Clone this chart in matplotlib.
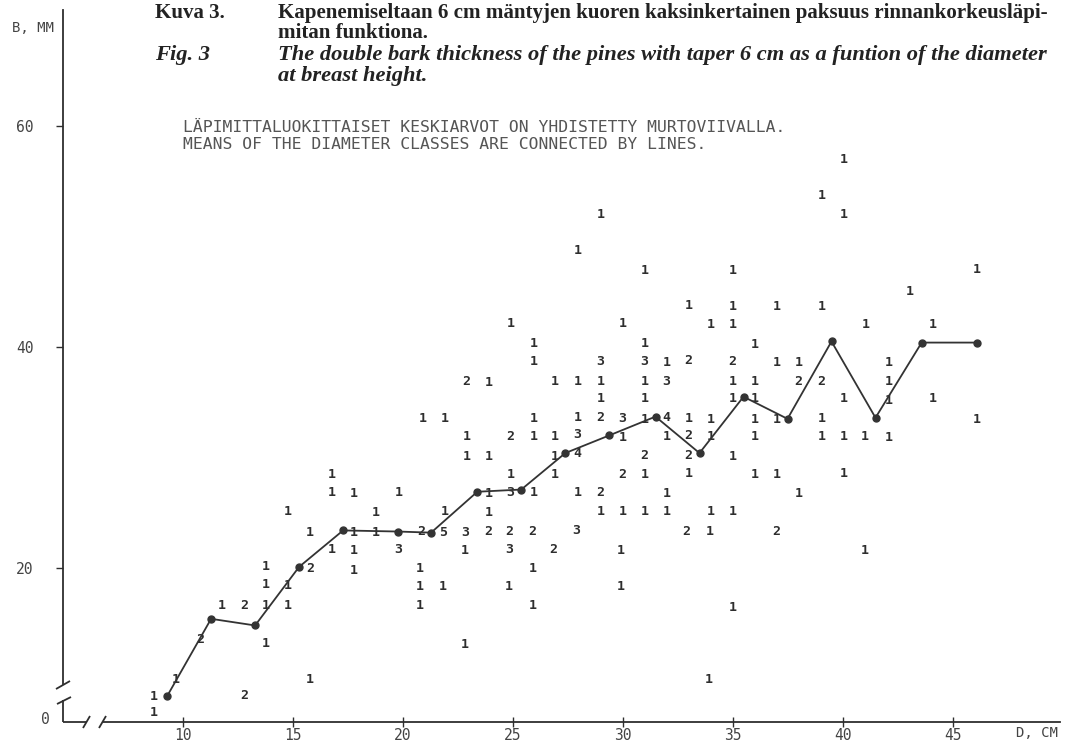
import matplotlib
matplotlib.use("Agg")
import matplotlib.pyplot as plt

W, H = 1074, 744

# ---------------- data ----------------
mean_diam = [9.3, 11.3, 13.3, 15.3, 17.3, 19.8, 21.3, 23.4, 25.4, 27.4,
             29.4, 31.5, 33.5, 35.5, 37.5, 39.5, 41.5, 43.6, 46.1]
mean_bark = [8.4, 15.4, 14.8, 20.1, 23.4, 23.3, 23.2, 26.9, 27.1, 30.4,
             32.0, 33.7, 30.4, 35.5, 33.5, 40.5, 33.6, 40.4, 40.4]

obs_diam = [
    8.7, 8.7, 9.7, 10.8, 11.8, 12.8, 12.8,
    13.8, 13.8, 13.8, 13.8,
    14.8, 14.8, 14.8,
    15.8, 15.8, 15.8,
    16.8, 16.8, 16.8,
    17.8, 17.8, 17.8, 17.8,
    18.8, 18.8,
    19.85, 19.8,
    20.9, 20.85, 20.8, 20.8, 20.8,
    21.9, 21.9, 21.85, 21.85,
    22.9, 22.9, 22.9, 22.85, 22.85, 22.85,
    23.9, 23.9, 23.9, 23.9, 23.9,
    24.9, 24.9, 24.9, 24.9, 24.85, 24.85, 24.85,
    25.95, 25.95, 25.95, 25.95, 25.95, 25.9, 25.9, 25.9,
    26.9, 26.9, 26.9, 26.9, 26.85,
    27.95, 27.95, 27.95, 27.95, 27.95, 27.95, 27.9,
    29.0, 29.0, 29.0, 29.0, 29.0, 29.0, 29.0,
    30.0, 30.0, 30.0, 30.0, 30.0, 29.9, 29.9,
    31.0, 31.0, 31.0, 31.0, 31.0, 31.0, 31.0, 31.0, 31.0,
    32.0, 32.0, 32.0, 32.0, 32.0, 32.0,
    33.0, 33.0, 33.0, 33.0, 33.0, 33.0, 32.9,
    34.0, 34.0, 34.0, 34.0, 33.95, 33.9,
    35.0, 35.0, 35.0, 35.0, 35.0, 35.0, 35.0, 35.0, 35.0,
    36.0, 36.0, 36.0, 36.0, 36.0, 36.0,
    37.0, 37.0, 37.0, 37.0, 37.0,
    38.0, 38.0, 38.0,
    39.05, 39.05, 39.05, 39.05, 39.05,
    40.05, 40.05, 40.05, 40.05, 40.05,
    41.05, 41.0, 41.0,
    42.1, 42.1, 42.1, 42.1,
    43.05,
    44.1, 44.1,
    46.1, 46.1,
]
obs_bark = [
    8.4, 6.9, 9.9, 13.5, 16.65, 16.65, 8.5,
    20.1, 18.5, 16.65, 13.2,
    25.1, 18.4, 16.65,
    23.2, 20.0, 9.9,
    28.5, 26.8, 21.7,
    26.7, 23.2, 21.6, 19.8,
    25.0, 23.2,
    26.8, 21.7,
    33.5, 23.3, 20.0, 18.3, 16.65,
    33.5, 25.1, 23.2, 18.3,
    36.9, 31.9, 30.1, 23.2, 21.6, 13.1,
    36.8, 30.1, 26.7, 25.0, 23.3,
    42.1, 31.9, 28.5, 26.8, 23.3, 21.7, 18.3,
    40.3, 38.7, 33.55, 31.9, 26.8, 23.3, 20.0, 16.65,
    36.9, 31.9, 30.1, 28.5, 21.7,
    48.7, 36.9, 33.6, 32.1, 30.4, 26.8, 23.4,
    52.0, 38.7, 36.9, 35.3, 33.6, 26.8, 25.1,
    42.1, 33.55, 31.8, 28.5, 25.1, 21.6, 18.3,
    46.9, 40.3, 38.7, 36.9, 35.3, 33.45, 30.2, 28.5, 25.1,
    38.6, 36.9, 33.6, 31.9, 26.7, 25.1,
    43.8, 38.75, 33.55, 32.0, 30.2, 28.55, 23.3,
    42.05, 33.45, 31.9, 25.1, 23.3, 9.9,
    46.9, 43.7, 42.0, 38.7, 36.9, 35.3, 30.1, 25.1, 16.4,
    40.2, 36.9, 35.3, 33.45, 31.9, 28.5,
    43.7, 38.6, 33.45, 28.5, 23.3,
    38.6, 36.9, 26.7,
    53.7, 43.7, 36.9, 33.55, 31.9,
    57.0, 52.0, 35.35, 31.9, 28.55,
    42.0, 31.9, 21.6,
    38.6, 36.9, 35.15, 31.85,
    45.0,
    42.0, 35.3,
    47.0, 33.45,
]
obs_count = [
    1, 1, 1, 2, 1, 2, 2,
    1, 1, 1, 1,
    1, 1, 1,
    1, 2, 1,
    1, 1, 1,
    1, 1, 1, 1,
    1, 1,
    1, 3,
    1, 2, 1, 1, 1,
    1, 1, 5, 1,
    2, 1, 1, 3, 1, 1,
    1, 1, 1, 1, 2,
    1, 2, 1, 3, 2, 3, 1,
    1, 1, 1, 1, 1, 2, 1, 1,
    1, 1, 1, 1, 2,
    1, 1, 1, 3, 4, 1, 3,
    1, 3, 1, 1, 2, 2, 1,
    1, 3, 1, 2, 1, 1, 1,
    1, 1, 3, 1, 1, 1, 2, 1, 1,
    1, 3, 4, 1, 1, 1,
    1, 2, 1, 2, 2, 1, 2,
    1, 1, 1, 1, 1, 1,
    1, 1, 1, 2, 1, 1, 1, 1, 1,
    1, 1, 1, 1, 1, 1,
    1, 1, 1, 1, 2,
    1, 2, 1,
    1, 1, 2, 1, 1,
    1, 1, 1, 1, 1,
    1, 1, 1,
    1, 1, 1, 1,
    1,
    1, 1,
    1, 1,
]

x_ticks = [10, 15, 20, 25, 30, 35, 40, 45]
x_tick_labels = ["10", "15", "20", "25", "30", "35", "40", "45"]
y_ticks = [20, 40, 60]
y_tick_labels = ["20", "40", "60"]

title_fi_1 = "Kapenemiseltaan 6 cm mäntyjen kuoren kaksinkertainen paksuus rinnankorkeusläpi-"
title_fi_2 = "mitan funktiona."
title_en_1 = "The double bark thickness of the pines with taper 6 cm as a funtion of the diameter"
title_en_2 = "at breast height."
note_1 = "LÄPIMITTALUOKITTAISET KESKIARVOT ON YHDISTETTY MURTOVIIVALLA."
note_2 = "MEANS OF THE DIAMETER CLASSES ARE CONNECTED BY LINES."

# ---------------- layout ----------------
INK = "#2e2e2e"
MONO = "DejaVu Sans Mono"
SERIF = "Liberation Serif"

# pixel geometry of the original scale
X10_PX, PX_PER_CM = 182.5, 22.0
Y20_PX, PX_PER_MM = 568.0, 11.05
AX_L, AX_R, AX_T, AX_B = 63, 1060, 10, 722


def px2x(px):
    return 10 + (px - X10_PX) / PX_PER_CM


def px2y(py):
    return 20 + (Y20_PX - py) / PX_PER_MM


fig = plt.figure(figsize=(W / 100, H / 100), dpi=100)
fig.patch.set_facecolor("white")
ax = fig.add_axes([AX_L / W, 1 - AX_B / H, (AX_R - AX_L) / W, (AX_B - AX_T) / H])
ax.set_facecolor("none")
x0, x1 = px2x(AX_L), px2x(AX_R)
y0, y1 = px2y(AX_B), px2y(AX_T)
ax.set_xlim(x0, x1)
ax.set_ylim(y0, y1)

for s in ("top", "right"):
    ax.spines[s].set_visible(False)
for s in ("left", "bottom"):
    ax.spines[s].set_color(INK)
    ax.spines[s].set_linewidth(1.3)
ax.spines["left"].set_bounds(px2y(684), y1)
ax.spines["bottom"].set_bounds(px2x(103), x1)

# short axis pieces beyond the breaks, and break marks
seg = dict(color=INK, lw=1.3, clip_on=False, solid_capstyle="butt")
ax.plot([x0, x0], [y0, px2y(700)], **seg)
ax.plot([x0, px2x(86)], [y0, y0], **seg)
ax.plot([px2x(56), px2x(70)], [px2y(689), px2y(681)], **seg)
ax.plot([px2x(57), px2x(71)], [px2y(704), px2y(697)], **seg)
ax.plot([px2x(83), px2x(90)], [px2y(728), px2y(716)], **seg)
ax.plot([px2x(99), px2x(106)], [px2y(728), px2y(716)], **seg)

ax.set_xticks(x_ticks)
ax.set_xticklabels(x_tick_labels)
ax.set_yticks(y_ticks)
ax.set_yticklabels(y_tick_labels)
ax.tick_params(axis="x", direction="inout", length=7, width=1, color=INK,
               labelsize=10.5, labelcolor="#444", pad=1)
ax.tick_params(axis="y", direction="out", length=5, width=1, color=INK,
               labelsize=10.5, labelcolor="#444", pad=16)
for lab in ax.get_xticklabels() + ax.get_yticklabels():
    lab.set_family(MONO)

fig.text(45 / W, 1 - 720 / H, "0", family=MONO, fontsize=10.5, color="#444",
         ha="center", va="center")
fig.text(33 / W, 1 - 28 / H, "B, MM", family=MONO, fontsize=10, color="#444",
         ha="center", va="center")
fig.text(1037 / W, 1 - 733 / H, "D, CM", family=MONO, fontsize=10, color="#444",
         ha="center", va="center")

# observations (frequency digits) and class means
for d, b, n in zip(obs_diam, obs_bark, obs_count):
    ax.text(d, b, str(n), ha="center", va="center", fontsize=9.5,
            fontweight="bold", family=MONO, color=INK, zorder=2)
ax.plot(mean_diam, mean_bark, color="#333333", lw=1.3, marker="o", ms=5,
        zorder=3, clip_on=False)

# ---------------- captions ----------------
renderer = fig.canvas.get_renderer()


def fitted_text(x_px, y_px, s, target_w, **kw):
    t = fig.text(x_px / W, 1 - y_px / H, s, va="baseline", ha="left", **kw)
    fs = t.get_fontsize()
    w = t.get_window_extent(renderer).width
    t.set_fontsize(fs * target_w / w)
    return t.get_fontsize()


fs_fi = fitted_text(278, 18, title_fi_1, 1045 - 278, family=SERIF,
                    fontweight="bold", fontsize=12, color="#222")
fig.text(155 / W, 1 - 18 / H, "Kuva 3.", family=SERIF, fontweight="bold",
         fontsize=fs_fi, color="#222", va="baseline")
fig.text(278 / W, 1 - 38 / H, title_fi_2, family=SERIF, fontweight="bold",
         fontsize=fs_fi, color="#222", va="baseline")

fs_en = fitted_text(278, 60, title_en_1, 1045 - 278, family=SERIF,
                    fontweight="bold", style="italic", fontsize=12, color="#222")
fig.text(155 / W, 1 - 60 / H, "Fig. 3", family=SERIF, fontweight="bold",
         style="italic", fontsize=fs_en, color="#222", va="baseline")
fig.text(278 / W, 1 - 81 / H, title_en_2, family=SERIF, fontweight="bold",
         style="italic", fontsize=fs_en, color="#222", va="baseline")

fig.text(183 / W, 1 - 132 / H, note_1, family=MONO, fontsize=11.8, color="#555",
         va="baseline")
fig.text(183 / W, 1 - 149 / H, note_2, family=MONO, fontsize=11.8, color="#555",
         va="baseline")

fig.savefig("out.png", dpi=100, facecolor="white")
